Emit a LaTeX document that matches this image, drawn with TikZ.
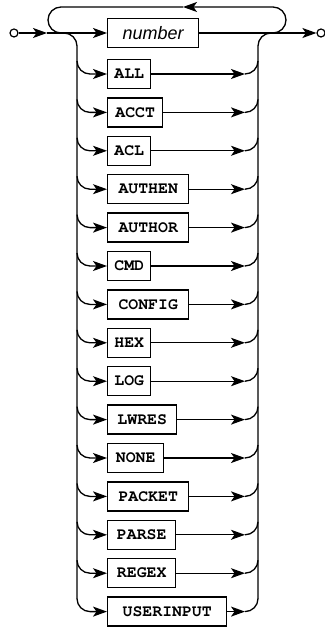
\documentclass[tikz,border=0pt]{standalone}
\usepackage{fontspec}
\setmainfont{Liberation Sans}
\usetikzlibrary{arrows.meta}
\newcommand{\crfont}{\fontencoding{T1}\fontfamily{pcr}\fontseries{b}\fontshape{n}\fontsize{16.5}{17}\selectfont}
\begin{document}
\begin{tikzpicture}[x=1pt,y=1pt,
  line width=1.3pt,
  arr/.style={-{Stealth[length=14pt,width=10pt,inset=3.5pt]}},
  kw/.style={draw,line width=1.4pt,minimum height=29pt,inner sep=0pt,
    font=\crfont},
  term/.style={draw,circle,line width=1.2pt,minimum size=8pt,inner sep=0pt}]
\useasboundingbox (0,0) rectangle (324,-628);
% terminals
\node[term] (start) at (14,-33) {};
\node[term] (stop) at (321,-33) {};
\node[draw,line width=1.4pt,minimum height=29pt,minimum width=91pt,inner sep=0pt,
  anchor=west,font=\itshape\fontsize{18}{20}\selectfont] (num) at (107,-33) {number};
\coordinate (m1) at (47,-33);
\draw[arr] (start) -- (m1);
\draw[arr] (m1) -- (num);
\draw[arr] (num) -- (stop);
% loop back
\coordinate (lr) at (273,-33);
\coordinate (lt) at (183,-7);
\draw[arr] (lr) arc[start angle=-90,end angle=90,radius=13pt] -- (lt);
\draw (lt) -- (61,-7) arc[start angle=90,end angle=270,radius=13pt];
% left rail
\coordinate (la) at (64,-33);
\draw (la) arc[start angle=90,end angle=0,radius=13pt] -- (77,-599);
% right rail
\coordinate (ra) at (258,-599);
\draw (ra) -- (258,-46) arc[start angle=180,end angle=90,radius=13pt];
% rows
\foreach \t/\w [count=\i] in {ALL/43,ACCT/55,ACL/43,AUTHEN/81,AUTHOR/81,CMD/43,
  CONFIG/81,HEX/43,LOG/43,LWRES/69,NONE/56,PACKET/81,PARSE/68,REGEX/68,USERINPUT/119}{
  \pgfmathsetmacro\yy{74+38.4*(\i-1)}
  \node[kw,minimum width=\w pt,anchor=west] (r\i) at (107,-\yy) {\t};
  \coordinate (l\i) at (77,-\yy+13);
  \coordinate (q\i) at (245,-\yy);
  \draw[arr] (l\i) arc[start angle=180,end angle=270,radius=13pt] -- (r\i);
  \draw[arr] (r\i) -- (q\i);
  \draw (q\i) arc[start angle=-90,end angle=0,radius=13pt];
}
\end{tikzpicture}
\end{document}
